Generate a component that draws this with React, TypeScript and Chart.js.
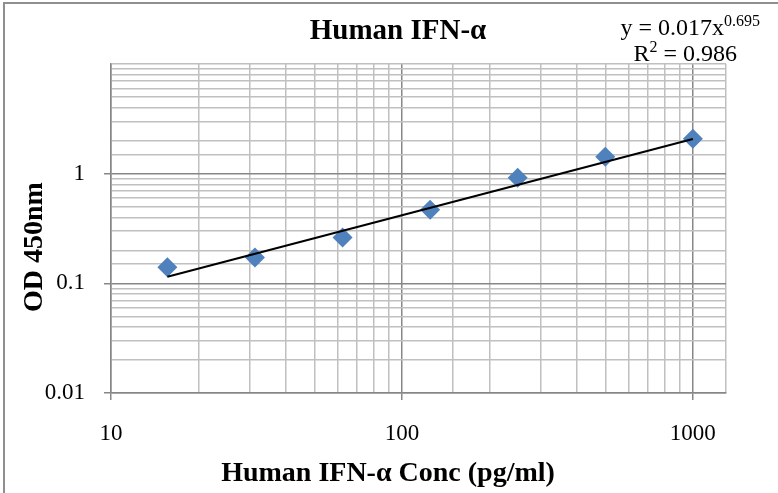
import React, { useEffect, useRef } from "react";
import { Chart, registerables } from "chart.js";

Chart.register(...registerables);

const concentrations = [15.625, 31.25, 62.5, 125, 250, 500, 1000];
const odValues = [0.14, 0.172, 0.262, 0.47, 0.92, 1.43, 2.08];
const trendX = [15.625, 1000];
const trendY = [0.115, 2.07];
const xTickLabels = [10, 100, 1000];
const yTickLabels = [0.01, 0.1, 1];

const chartTitle = "Human IFN-α";
const xTitle = "Human IFN-α Conc (pg/ml)";
const yTitle = "OD 450nm";
const eqMain = "y = 0.017x";
const eqExp = "0.695";
const r2Text = " = 0.986";

const SERIF = "'Liberation Serif', 'Times New Roman', serif";
const MAJOR = "#878787";
const MINOR = "#c0c0c0";

const isMajor = (v: number, max: number) => {
  const l = Math.log10(v);
  return Math.abs(l - Math.round(l)) < 1e-9 && v < max * 0.999;
};

const textPlugin = {
  id: "textPlugin",
  afterDraw(chart: any) {
    const ctx = chart.ctx as CanvasRenderingContext2D;
    ctx.save();
    // frame
    ctx.fillStyle = "#8f8f8f";
    ctx.fillRect(3, 3, 2, 490);
    ctx.fillRect(3, 2, 775, 2);
    ctx.fillStyle = "#000";
    // title
    ctx.font = `bold 29px ${SERIF}`;
    ctx.textAlign = "center";
    ctx.textBaseline = "alphabetic";
    ctx.fillText(chartTitle, 398, 39);
    // x title
    ctx.font = `bold 28px ${SERIF}`;
    ctx.fillText(xTitle, 388, 481);
    // y title
    ctx.save();
    ctx.translate(42, 247);
    ctx.rotate(-Math.PI / 2);
    ctx.font = `bold 28px ${SERIF}`;
    ctx.fillText(yTitle, 0, 0);
    ctx.restore();
    // equation
    ctx.textAlign = "left";
    ctx.font = `24px ${SERIF}`;
    const w1 = ctx.measureText(eqMain).width;
    ctx.font = `16px ${SERIF}`;
    const w1s = ctx.measureText(eqExp).width;
    const end1 = 760;
    const x1 = end1 - w1 - w1s;
    ctx.font = `24px ${SERIF}`;
    ctx.fillText(eqMain, x1, 35);
    ctx.font = `16px ${SERIF}`;
    ctx.fillText(eqExp, x1 + w1, 26);
    // R2
    ctx.font = `24px ${SERIF}`;
    const wR = ctx.measureText("R").width;
    const wRest = ctx.measureText(r2Text).width;
    ctx.font = `16px ${SERIF}`;
    const w2 = ctx.measureText("2").width;
    const end2 = 737;
    const x2 = end2 - wR - w2 - wRest;
    ctx.font = `24px ${SERIF}`;
    ctx.fillText("R", x2, 61);
    ctx.font = `16px ${SERIF}`;
    ctx.fillText("2", x2 + wR, 52);
    ctx.font = `24px ${SERIF}`;
    ctx.fillText(r2Text, x2 + wR + w2, 61);
    ctx.restore();
  },
};

export default function App() {
  const ref = useRef<HTMLCanvasElement>(null);
  useEffect(() => {
    if (!ref.current) return;
    const X_MAX = 1300;
    const Y_MAX = 10;
    const chart = new Chart(ref.current, {
      type: "scatter",
      data: {
        datasets: [
          {
            label: "Trend",
            data: trendX.map((x, i) => ({ x, y: trendY[i] })),
            showLine: true,
            borderColor: "#000000",
            borderWidth: 2,
            pointRadius: 0,
            fill: false,
          },
          {
            label: "OD",
            data: concentrations.map((x, i) => ({ x, y: odValues[i] })),
            pointStyle: "rectRot",
            pointRadius: 10,
            backgroundColor: "#4f81bd",
            borderColor: "#4f81bd",
            borderWidth: 0,
            showLine: false,
          },
        ],
      },
      options: {
        responsive: false,
        animation: false,
        events: [],
        layout: { padding: { left: 0, top: 64, right: 52, bottom: 0 } },
        plugins: {
          legend: { display: false },
          title: { display: false },
          tooltip: { enabled: false },
        },
        scales: {
          x: {
            type: "logarithmic",
            position: "bottom",
            min: 10,
            max: X_MAX,
            afterFit: (s: any) => {
              s.height = 100;
            },
            border: { display: true, color: MAJOR, width: 1.5 },
            grid: {
              color: (c: any) => (c.tick && isMajor(c.tick.value, X_MAX) ? MAJOR : MINOR),
              lineWidth: 1.5,
              tickLength: 7,
              tickColor: (c: any) => (c.tick && isMajor(c.tick.value, X_MAX) ? MAJOR : "rgba(0,0,0,0)"),
            },
            ticks: {
              autoSkip: false,
              maxRotation: 0,
              padding: 20,
              color: "#000",
              font: { family: SERIF, size: 23 },
              callback: (v: any) => (xTickLabels.includes(Number(v)) ? String(v) : ""),
            },
          },
          y: {
            type: "logarithmic",
            min: 0.01,
            max: Y_MAX,
            afterFit: (s: any) => {
              s.width = 111;
            },
            border: { display: true, color: MAJOR, width: 1.5 },
            grid: {
              color: (c: any) => (c.tick && isMajor(c.tick.value, Y_MAX) ? MAJOR : MINOR),
              lineWidth: 1.5,
              tickLength: 7,
              tickColor: (c: any) => (c.tick && isMajor(c.tick.value, Y_MAX) ? MAJOR : "rgba(0,0,0,0)"),
            },
            ticks: {
              autoSkip: false,
              padding: 19,
              color: "#000",
              font: { family: SERIF, size: 23 },
              callback: (v: any) => {
                const n = Number(v);
                const hit = yTickLabels.find((t) => Math.abs(t - n) < t * 1e-6);
                return hit !== undefined ? String(hit) : "";
              },
            },
          },
        },
      },
      plugins: [textPlugin],
    });
    return () => chart.destroy();
  }, []);
  return (
    <div style={{ position: "fixed", left: 0, top: 0, width: 778, height: 493, background: "#fff" }}>
      <canvas ref={ref} width={778} height={493} style={{ width: 778, height: 493, display: "block" }} />
    </div>
  );
}
